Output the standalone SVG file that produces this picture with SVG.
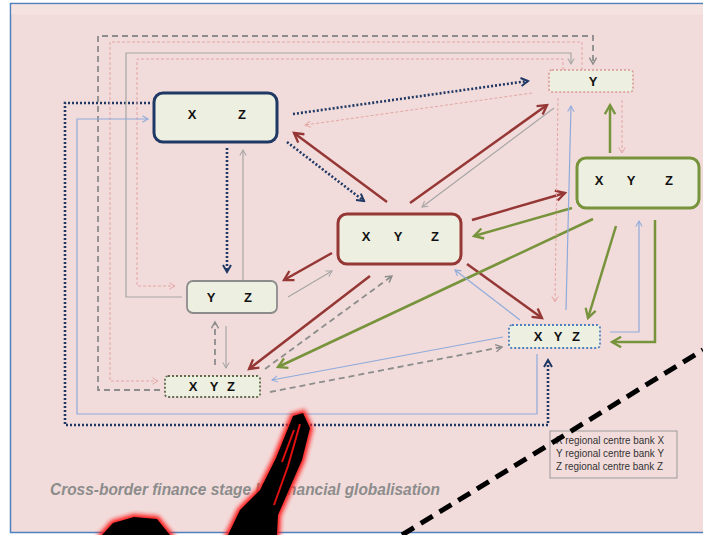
<svg xmlns="http://www.w3.org/2000/svg" width="703" height="535" viewBox="0 0 703 535">
<style>
.node rect{fill:#edf0e1}
.lbl{font-family:"Liberation Sans",Arial,sans-serif;font-weight:bold;font-size:13px;fill:#111;text-anchor:middle}
.nv{fill:none;stroke:#1f3864;stroke-width:2.6;stroke-dasharray:2 2}
.rd{fill:none;stroke:#953735;stroke-width:2.5}
.gr{fill:none;stroke:#77933c;stroke-width:2.5}
.pk{fill:none;stroke:#e3a6a5;stroke-width:1;stroke-dasharray:3 2}
.gy{fill:none;stroke:#a6a6a6;stroke-width:1.2}
.gd{fill:none;stroke:#8c8c8c;stroke-width:1.8;stroke-dasharray:6 4}
.bl{fill:none;stroke:#8eaadb;stroke-width:1.2}
.leg{font-family:"Liberation Sans Narrow","Liberation Sans",Arial,sans-serif;font-size:11px;fill:#333}
</style>
<defs>
<marker id="mNv" viewBox="0 0 10 10" refX="8" refY="5" markerWidth="10" markerHeight="10" markerUnits="userSpaceOnUse" orient="auto"><path d="M1,1 L8,5 L1,9" fill="none" stroke="#1f3864" stroke-width="2"/></marker>
<marker id="mRd" viewBox="0 0 10 10" refX="8" refY="5" markerWidth="13" markerHeight="13" markerUnits="userSpaceOnUse" orient="auto"><path d="M1,1 L8,5 L1,9" fill="none" stroke="#953735" stroke-width="1.8"/></marker>
<marker id="mGr" viewBox="0 0 10 10" refX="8" refY="5" markerWidth="13" markerHeight="13" markerUnits="userSpaceOnUse" orient="auto"><path d="M1,1 L8,5 L1,9" fill="none" stroke="#77933c" stroke-width="1.8"/></marker>
<marker id="mPk" viewBox="0 0 10 10" refX="8" refY="5" markerWidth="8" markerHeight="8" markerUnits="userSpaceOnUse" orient="auto"><path d="M1,1 L8,5 L1,9" fill="none" stroke="#e3a6a5" stroke-width="1.2"/></marker>
<marker id="mGy" viewBox="0 0 10 10" refX="8" refY="5" markerWidth="8" markerHeight="8" markerUnits="userSpaceOnUse" orient="auto"><path d="M1,1 L8,5 L1,9" fill="none" stroke="#a6a6a6" stroke-width="1.3"/></marker>
<marker id="mGd" viewBox="0 0 10 10" refX="8" refY="5" markerWidth="9" markerHeight="9" markerUnits="userSpaceOnUse" orient="auto"><path d="M1,1 L8,5 L1,9" fill="none" stroke="#8c8c8c" stroke-width="1.6"/></marker>
<marker id="mBl" viewBox="0 0 10 10" refX="8" refY="5" markerWidth="8" markerHeight="8" markerUnits="userSpaceOnUse" orient="auto"><path d="M1,1 L8,5 L1,9" fill="none" stroke="#8eaadb" stroke-width="1.3"/></marker>
<filter id="blur" x="-20%" y="-20%" width="140%" height="140%"><feGaussianBlur stdDeviation="2"/></filter>
</defs>
<rect x="0" y="0" width="703" height="535" fill="#ffffff"/>
<rect x="10.5" y="3.5" width="700" height="529" fill="#f2dcdb" stroke="#4f81bd" stroke-width="1.5"/>
<rect x="11.5" y="4.5" width="692" height="10" fill="#f5e3e2"/>

<g id="connectors">
<path class="nv" d="M293,114 L528,81" marker-end="url(#mNv)"/>
<path class="nv" d="M287,142 L364,201" marker-end="url(#mNv)"/>
<path class="nv" d="M227,148 L227,272" marker-end="url(#mNv)"/>
<path class="nv" d="M150,103 L65,103 L65,425 L548,425 L548,360" marker-end="url(#mNv)"/>
<path class="rd" d="M387,202 L294,133" marker-end="url(#mRd)"/>
<path class="rd" d="M410,203 L547,105" marker-end="url(#mRd)"/>
<path class="rd" d="M472,220 L565,193" marker-end="url(#mRd)"/>
<path class="rd" d="M467,264 L542,318" marker-end="url(#mRd)"/>
<path class="rd" d="M370,276 L249,369" marker-end="url(#mRd)"/>
<path class="rd" d="M332,253 L284,280" marker-end="url(#mRd)"/>
<path class="gr" d="M572,208 L474,236" marker-end="url(#mGr)"/>
<path class="gr" d="M593,219 L278,367" marker-end="url(#mGr)"/>
<path class="gr" d="M610,153 L610,105" marker-end="url(#mGr)"/>
<path class="gr" d="M616,226 L588,318" marker-end="url(#mGr)"/>
<path class="gr" d="M655,220 L655,342 L612,342" marker-end="url(#mGr)"/>
<path class="pk" d="M532,93 L305,125" marker-end="url(#mPk)"/>
<path class="pk" d="M622,100 L622,153" marker-end="url(#mPk)"/>
<path class="pk" d="M558,98 L555,302" marker-end="url(#mPk)"/>
<path class="pk" d="M582,70 L582,42 L110,42 L110,381 L158,381" marker-end="url(#mPk)"/>
<path class="pk" d="M563,70 L563,59 L137,59 L137,286 L175,286" marker-end="url(#mPk)"/>
<path class="gy" d="M182,297 L126,297 L126,53 L571,53 L571,64" marker-end="url(#mGy)"/>
<path class="gy" d="M554,108 L422,207" marker-end="url(#mGy)"/>
<path class="gy" d="M288,297 L332,271" marker-end="url(#mGy)"/>
<path class="gy" d="M243,281 L243,150" marker-end="url(#mGy)"/>
<path class="gy" d="M226,326 L226,368" marker-end="url(#mGy)"/>
<path class="gd" d="M160,390 L98,390 L98,36 L593,36 L593,64" marker-end="url(#mGd)"/>
<path class="gd" d="M215,365 L215,322" marker-end="url(#mGd)"/>
<path class="gd" d="M270,392 L502,347" marker-end="url(#mGd)"/>
<path class="gd" d="M265,369 L392,276" marker-end="url(#mGd)"/>
<path class="bl" d="M537,354 L537,414 L77,414 L77,119 L148,119" marker-end="url(#mBl)"/>
<path class="bl" d="M566,310 L571,106" marker-end="url(#mBl)"/>
<path class="bl" d="M610,332 L639,332 L639,221" marker-end="url(#mBl)"/>
<path class="bl" d="M520,320 L455,270" marker-end="url(#mBl)"/>
<path class="bl" d="M503,337 L272,380" marker-end="url(#mBl)"/>
</g>

<g id="node-xz" class="node">
<rect x="154" y="93" width="123" height="49" rx="9" stroke="#1f3864" stroke-width="3"/>
<text class="lbl" x="192" y="119">X</text><text class="lbl" x="242" y="119">Z</text>
</g>
<g id="node-y" class="node">
<rect x="549" y="70" width="84" height="22" rx="3" stroke="#d99694" stroke-width="1.6" stroke-dasharray="2 2"/>
<text class="lbl" x="593" y="86">Y</text>
</g>
<g id="node-green" class="node">
<rect x="577" y="158" width="122" height="50" rx="9" stroke="#77933c" stroke-width="3"/>
<text class="lbl" x="599" y="185">X</text><text class="lbl" x="631" y="185">Y</text><text class="lbl" x="669" y="185">Z</text>
</g>
<g id="node-center" class="node">
<rect x="338" y="214" width="123" height="50" rx="9" stroke="#953735" stroke-width="3"/>
<text class="lbl" x="366" y="241">X</text><text class="lbl" x="398" y="241">Y</text><text class="lbl" x="435" y="241">Z</text>
</g>
<g id="node-yz" class="node">
<rect x="187" y="281" width="90" height="32" rx="6" stroke="#8c8c8c" stroke-width="1.8"/>
<text class="lbl" x="211" y="302">Y</text><text class="lbl" x="248" y="302">Z</text>
</g>
<g id="node-bl" class="node">
<rect x="165" y="376" width="95" height="21" rx="3" stroke="#5f6b4a" stroke-width="1.8" stroke-dasharray="2 2"/>
<text class="lbl" x="193" y="391">X</text><text class="lbl" x="214" y="391">Y</text><text class="lbl" x="231" y="391">Z</text>
</g>
<g id="node-br" class="node">
<rect x="509" y="325" width="91" height="23" rx="3" stroke="#4f81bd" stroke-width="1.8" stroke-dasharray="2 2"/>
<text class="lbl" x="538" y="341">X</text><text class="lbl" x="558" y="341">Y</text><text class="lbl" x="576" y="341">Z</text>
</g>

<g id="legend">
<rect x="550" y="431" width="127" height="47" fill="none" stroke="#9a9a9a" stroke-width="1"/>
<text class="leg" x="556" y="444" textLength="108" lengthAdjust="spacingAndGlyphs">X regional centre bank X</text>
<text class="leg" x="556" y="457" textLength="108" lengthAdjust="spacingAndGlyphs">Y  regional centre bank Y</text>
<text class="leg" x="556" y="470" textLength="107" lengthAdjust="spacingAndGlyphs">Z regional centre bank Z</text>
</g>

<text x="50" y="495" font-family="Liberation Sans,Arial,sans-serif" font-style="italic" font-weight="bold" font-size="16.5" fill="#8c8c8c" textLength="390" lengthAdjust="spacingAndGlyphs">Cross-border finance stage III: financial globalisation</text>

<line x1="402" y1="535" x2="703" y2="350" stroke="#000" stroke-width="5" stroke-dasharray="14 8"/>

<g id="brush">
<path d="M293,416 L303,413 L310,428 L302,460 L288,492 L278,515 L277,535 L228,535 L240,510 L260,490 L276,458 Z M102,535 L113,523 L134,517 L157,519 L170,535 Z" fill="#ff1a1a" stroke="#ff1a1a" stroke-width="6" filter="url(#blur)"/>
<path d="M293,416 L303,413 L310,428 L302,460 L288,492 L278,515 L277,535 L228,535 L240,510 L260,490 L276,458 Z M102,535 L113,523 L134,517 L157,519 L170,535 Z" fill="#000"/>
<path d="M300,424 L288,466 L274,505 M294,430 L282,462" fill="none" stroke="#e01010" stroke-width="2"/>
</g>
</svg>
